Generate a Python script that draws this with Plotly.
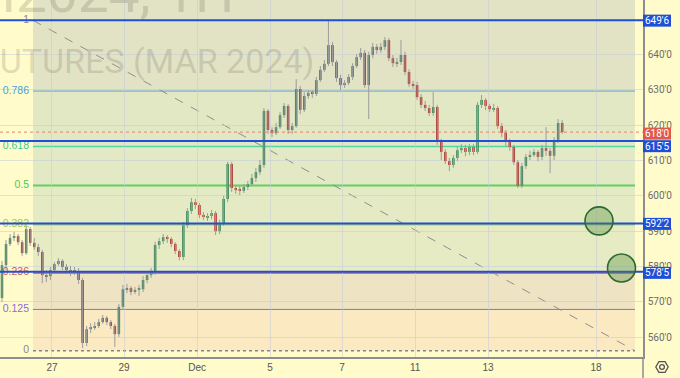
import math
import plotly.graph_objects as go

# ---------------- data ----------------
day_labels = ["27", "29", "Dec", "5", "7", "11", "13", "18"]
day_label_bars = [12.4, 30.3, 48.4, 66.5, 84.4, 102.5, 120.6, 147.4]

opens = [571.1, 580.4, 586.4, 588.1, 588.6, 586.9, 583.8, 590.6, 586.7, 585.5,
         584.1, 577.6, 577.3, 579.0, 580.7, 581.6, 579.9, 579.0, 578.5, 578.7,
         576.2, 558.4, 562.3, 562.9, 563.2, 564.3, 565.5, 564.3, 563.2, 560.9,
         568.6, 573.6, 573.9, 572.8, 573.4, 573.6, 576.2, 577.6, 578.7, 586.1,
         587.2, 588.3, 587.8, 586.4, 584.4, 582.7, 591.7, 595.7, 598.2, 597.4,
         594.6, 594.0, 594.3, 595.1, 590.0, 592.3, 599.1, 609.0, 602.2, 601.6,
         601.4, 602.5, 603.3, 605.0, 606.7, 608.7, 624.0, 618.6, 617.7, 619.4,
         622.8, 625.4, 618.6, 619.7, 630.2, 624.3, 628.2, 629.1, 628.8, 632.7,
         635.6, 637.3, 642.6, 637.8, 633.3, 631.3, 631.9, 633.6, 636.7, 639.2,
         640.4, 631.3, 639.8, 642.1, 641.2, 642.1, 644.0, 638.9, 637.5, 637.8,
         639.8, 635.0, 631.6, 631.3, 627.9, 625.7, 624.8, 623.4, 625.1, 615.2,
         612.4, 609.8, 608.7, 610.7, 612.9, 613.5, 612.4, 613.8, 612.4, 625.7,
         627.1, 625.4, 624.5, 624.8, 619.7, 617.8, 615.2, 613.8, 609.5, 602.8,
         608.4, 611.0, 611.5, 612.4, 611.0, 613.5, 612.7, 611.3, 615.8, 620.6]

highs = [581.6, 587.5, 589.2, 589.8, 589.2, 587.5, 591.7, 591.2, 588.1, 586.4,
         584.7, 579.0, 579.9, 581.3, 582.4, 582.1, 580.7, 580.2, 579.9, 579.6,
         576.8, 563.2, 564.0, 564.3, 565.2, 566.3, 566.0, 564.9, 563.8, 569.4,
         574.8, 575.1, 574.5, 574.2, 574.8, 577.3, 578.5, 579.6, 587.0, 588.1,
         589.2, 588.9, 588.3, 586.9, 584.9, 592.6, 596.5, 599.4, 599.1, 598.0,
         595.4, 595.1, 596.0, 595.7, 593.2, 600.0, 609.6, 609.6, 603.0, 602.8,
         603.3, 604.2, 606.2, 607.9, 610.1, 624.8, 624.5, 619.4, 620.6, 623.7,
         626.2, 625.9, 620.6, 633.0, 631.0, 629.3, 629.9, 629.9, 633.6, 636.7,
         638.4, 649.6, 643.5, 638.4, 634.2, 632.7, 634.4, 637.5, 640.1, 641.8,
         641.2, 640.7, 643.2, 642.9, 643.2, 644.9, 644.6, 639.8, 639.0, 644.0,
         640.7, 635.8, 632.5, 632.2, 628.8, 626.8, 625.7, 629.3, 625.7, 616.1,
         613.2, 610.7, 611.5, 613.8, 614.6, 614.4, 614.6, 614.6, 626.5, 628.5,
         627.6, 626.0, 626.0, 625.4, 620.6, 618.6, 616.1, 614.4, 610.1, 609.3,
         611.8, 612.7, 613.2, 612.9, 614.4, 619.4, 613.5, 616.6, 621.7, 621.4]

lows = [570.0, 579.0, 585.8, 587.2, 586.1, 583.0, 583.3, 585.8, 584.7, 583.0,
        575.3, 575.6, 576.2, 578.2, 580.2, 579.0, 578.2, 577.3, 577.6, 575.1,
        557.0, 557.5, 561.2, 562.1, 562.6, 563.8, 563.5, 562.3, 557.3, 560.1,
        567.7, 572.5, 571.9, 572.2, 571.7, 572.8, 575.3, 576.8, 577.6, 585.0,
        586.4, 586.7, 585.5, 583.5, 581.8, 581.8, 590.9, 594.9, 596.3, 593.7,
        593.2, 592.9, 593.4, 588.9, 589.2, 591.5, 598.2, 601.1, 600.5, 600.2,
        600.8, 601.6, 602.8, 603.9, 605.9, 607.9, 617.5, 616.6, 617.2, 618.9,
        622.0, 617.5, 617.5, 619.2, 623.1, 623.7, 627.4, 627.7, 628.2, 632.2,
        635.0, 636.7, 636.7, 632.2, 629.9, 630.5, 631.3, 632.7, 636.1, 638.4,
        630.5, 621.7, 638.9, 640.1, 640.4, 641.2, 638.1, 636.4, 636.4, 637.0,
        634.1, 630.8, 630.2, 627.1, 624.8, 624.0, 622.6, 622.6, 614.4, 610.1,
        609.0, 607.0, 607.9, 609.8, 612.1, 611.2, 611.5, 611.5, 611.8, 624.8,
        624.2, 623.7, 623.7, 618.9, 616.6, 614.1, 612.7, 608.7, 602.2, 602.2,
        607.6, 610.1, 611.0, 609.8, 610.1, 611.3, 606.4, 610.1, 614.9, 617.5]

closes = [580.4, 586.4, 588.1, 588.6, 586.9, 583.8, 590.6, 586.7, 585.5, 584.1,
          577.6, 577.3, 579.0, 580.7, 581.6, 579.9, 579.0, 578.5, 578.7, 576.2,
          558.4, 562.3, 562.9, 563.2, 564.3, 565.5, 564.3, 563.2, 560.9, 568.6,
          573.6, 573.9, 572.8, 573.4, 573.6, 576.2, 577.6, 578.7, 586.1, 587.2,
          588.3, 587.8, 586.4, 584.4, 582.7, 591.7, 595.7, 598.2, 597.4, 594.6,
          594.0, 594.3, 595.1, 590.0, 592.3, 599.1, 609.0, 602.2, 601.6, 601.4,
          602.5, 603.3, 605.0, 606.7, 608.7, 624.0, 618.6, 617.7, 619.4, 622.8,
          625.4, 618.6, 619.7, 630.2, 624.3, 628.2, 629.1, 628.8, 632.7, 635.6,
          637.3, 642.6, 637.8, 633.3, 631.3, 631.9, 633.6, 636.7, 639.2, 640.4,
          631.3, 639.8, 642.1, 641.2, 642.1, 644.0, 638.9, 637.5, 637.8, 639.8,
          635.0, 631.6, 631.3, 627.9, 625.7, 624.8, 623.4, 625.1, 615.2, 612.4,
          609.8, 608.7, 610.7, 612.9, 613.5, 612.4, 613.8, 612.4, 625.7, 627.1,
          625.4, 624.5, 624.8, 619.7, 617.8, 615.2, 613.8, 609.5, 602.8, 608.4,
          611.0, 611.5, 612.4, 611.0, 613.5, 612.7, 611.3, 615.8, 620.6, 618.0]

price_ticks = [560, 570, 580, 590, 600, 610, 620, 630, 640]
price_tick_labels = ["560'0", "570'0", "580'0", "590'0", "600'0", "610'0", "620'0", "630'0", "640'0"]

fib_low = 556.2
fib_high = 649.6
fib_ratios = [0, 0.125, 0.236, 0.382, 0.5, 0.618, 0.786, 1]
fib_texts = ["0", "0.125", "0.236", "0.382", "0.5", "0.618", "0.786", "1"]

level_prices = [649.6, 615.5, 592.2, 578.5]
level_labels = ["649'6", "615'5", "592'2", "578'5"]
last_price = 618.0
last_label = "618'0"

watermark_1 = "ZWH2024, 1H"
watermark_2 = "WHEAT FUTURES (MAR 2024)"

# ---------------- geometry / style ----------------
W, H = 680, 378
PLOT_W, PLOT_H = 643, 357
X_PER_BAR = 4.03
X_OFF = 2.0
X_RANGE = [-X_OFF / X_PER_BAR, (PLOT_W - X_OFF) / X_PER_BAR]
Y_RANGE = [554.43, 655.35]

BG = "#fffbca"
GRID = "rgba(196,204,216,0.55)"
AXIS = "#8e8e8e"
BLUE = "#1f4fd6"
RED_BOX = "#e0594b"
UP = "#338659"
DOWN = "#b3322b"
WICK = "#9c9c9c"
FONT = "Liberation Sans, Arial, sans-serif"


def px_to_bar(px):
    return (px - X_OFF) / X_PER_BAR


def pxx(px):
    return px / PLOT_W


def pxy(py):
    return (PLOT_H - py) / PLOT_H


def price_py(p):
    return (Y_RANGE[1] - p) / (Y_RANGE[1] - Y_RANGE[0]) * PLOT_H


FIB_X0 = px_to_bar(33)
FIB_X1 = px_to_bar(635)

fib_line_colors = ["#80838c", "#8d6fdc", "#e8705c", "#b0d25a", "#63d063", "#56d6a6", "#5ea6d2", "#80838c"]
fib_label_colors = ["#8a8a8a", "#8b6fd8", "#e0564c", "#a6c93f", "#52c852", "#44c99b", "#4c9fdc", "#8a8a8a"]
fib_line_widths = [1.5, 1, 2.5, 2, 2, 1.5, 1, 1]
fib_line_dash = ["dot", "solid", "solid", "solid", "solid", "solid", "solid", "dot"]
band_colors = ["#fbe9c1", "#eee3c2", "#e6ebc3", "#e4eac3", "#e3e9c4", "#e2e7c4", "#e2e2c5"]

fib_prices = [fib_low + r * (fib_high - fib_low) for r in fib_ratios]

idx = list(range(len(closes)))

fig = go.Figure()

# wicks
wx, wy = [], []
for i in idx:
    wx += [i, i, None]
    wy += [lows[i], highs[i], None]
fig.add_trace(go.Scatter(x=wx, y=wy, mode="lines", line=dict(color=WICK, width=1),
                         hoverinfo="skip", showlegend=False))

# bodies
base = [min(o, c) for o, c in zip(opens, closes)]
height = [max(abs(c - o), 0.3) for o, c in zip(opens, closes)]
colors = [UP if c >= o else DOWN for o, c in zip(opens, closes)]
fig.add_trace(go.Bar(x=idx, y=height, base=base, width=0.62,
                     marker=dict(color=colors, line=dict(width=0)),
                     hoverinfo="skip", showlegend=False))

# fib labels
fig.add_trace(go.Scatter(x=[px_to_bar(29)] * len(fib_prices), y=fib_prices, mode="text",
                         text=fib_texts, textposition="middle left",
                         textfont=dict(family=FONT, size=10.5, color=fib_label_colors),
                         hoverinfo="skip", showlegend=False))

shapes = []
# fib bands
for k in range(len(fib_prices) - 1):
    shapes.append(dict(type="rect", xref="x", yref="y", x0=FIB_X0, x1=FIB_X1,
                       y0=fib_prices[k], y1=fib_prices[k + 1], fillcolor=band_colors[k],
                       line=dict(width=0), layer="below"))
shapes.append(dict(type="rect", xref="x", yref="y", x0=FIB_X0, x1=FIB_X1,
                   y0=fib_prices[-1], y1=Y_RANGE[1], fillcolor=band_colors[-1],
                   line=dict(width=0), layer="below"))
# fib lines
for k, p in enumerate(fib_prices):
    shapes.append(dict(type="line", xref="x", yref="y", x0=FIB_X0, x1=FIB_X1, y0=p, y1=p,
                       line=dict(color=fib_line_colors[k], width=fib_line_widths[k],
                                 dash=fib_line_dash[k]), layer="below"))
# fib trend line
shapes.append(dict(type="line", xref="x", yref="y", x0=FIB_X0, x1=FIB_X1,
                   y0=fib_high, y1=fib_low,
                   line=dict(color="#8f8f8f", width=1, dash="dash"), layer="below"))

# last price dotted line
shapes.append(dict(type="line", xref="x", yref="y", x0=X_RANGE[0], x1=X_RANGE[1],
                   y0=last_price, y1=last_price,
                   line=dict(color="#e4846f", width=1, dash="dot"), layer="above"))
# blue horizontal levels
for p in level_prices:
    shapes.append(dict(type="line", xref="x", yref="y", x0=X_RANGE[0], x1=X_RANGE[1],
                       y0=p, y1=p, line=dict(color=BLUE, width=2), layer="above"))

# target circles
for cx, cy in [(px_to_bar(599), 592.9), (px_to_bar(621.5), 579.6)]:
    shapes.append(dict(type="circle", xref="x", yref="y",
                       xsizemode="pixel", xanchor=cx, x0=-14, x1=14,
                       ysizemode="pixel", yanchor=cy, y0=-14, y1=14,
                       fillcolor="rgba(80,140,60,0.36)",
                       line=dict(color="#2b6a2e", width=1.6), layer="above"))

# extend price-axis separator to the bottom
shapes.append(dict(type="line", xref="paper", yref="paper", x0=1, x1=1, y0=0, y1=pxy(H),
                   line=dict(color=AXIS, width=1.5), layer="above"))

annotations = []
# price boxes
boxes = [(level_prices[0], level_labels[0], BLUE, 0.3),
         (last_price, last_label, RED_BOX, 1.5),
         (level_prices[1], level_labels[1], BLUE, 5.2),
         (level_prices[2], level_labels[2], BLUE, 0.5),
         (level_prices[3], level_labels[3], BLUE, 1.0)]
for p, lab, col, off in boxes:
    cy = price_py(p) + off
    shapes.append(dict(type="rect", xref="paper", yref="paper",
                       x0=pxx(643), x1=pxx(671), y0=pxy(cy + 6), y1=pxy(cy - 6),
                       fillcolor=col, line=dict(width=0), layer="above"))
    annotations.append(dict(xref="paper", yref="paper", x=pxx(657), y=pxy(cy),
                            text=lab, showarrow=False, xanchor="center", yanchor="middle",
                            font=dict(family="Liberation Sans Narrow, Roboto, sans-serif",
                                      size=10, color="white")))

# gear icon
gx, gy, gr = 662, 367, 6.2
pts = []
for a in range(6):
    ang = math.radians(60 * a)
    pts.append((gx + gr * math.cos(ang), gy + gr * math.sin(ang)))
path = "M " + " L ".join(f"{pxx(x):.5f},{pxy(y):.5f}" for x, y in pts) + " Z"
shapes.append(dict(type="path", xref="paper", yref="paper", path=path,
                   line=dict(color="#555555", width=1.3), layer="above"))
shapes.append(dict(type="circle", xref="paper", yref="paper",
                   x0=pxx(gx - 2.4), x1=pxx(gx + 2.4), y0=pxy(gy + 2.4), y1=pxy(gy - 2.4),
                   line=dict(color="#555555", width=1.3), layer="above"))

# watermark
annotations.append(dict(xref="paper", yref="paper", x=pxx(236), y=pxy(-7),
                        text=watermark_1, showarrow=False, xanchor="right", yanchor="middle",
                        font=dict(family="Roboto, sans-serif", size=55,
                                  color="rgba(90,90,80,0.2)")))
annotations.append(dict(xref="paper", yref="paper", x=pxx(316), y=pxy(61),
                        text=watermark_2, showarrow=False, xanchor="right", yanchor="middle",
                        font=dict(family="Roboto, sans-serif", size=34,
                                  color="rgba(90,90,80,0.2)")))

fig.update_layout(
    width=W, height=H,
    margin=dict(l=0, r=W - PLOT_W, t=0, b=H - PLOT_H),
    paper_bgcolor=BG, plot_bgcolor=BG,
    showlegend=False, hovermode=False, barmode="overlay",
    shapes=shapes, annotations=annotations,
    xaxis=dict(range=X_RANGE, tickvals=day_label_bars, ticktext=day_labels,
               showgrid=True, gridcolor=GRID, gridwidth=1, zeroline=False,
               showline=True, linecolor=AXIS, linewidth=1.5, ticks="",
               tickfont=dict(family=FONT, size=10, color="#555555"), fixedrange=True),
    yaxis=dict(side="right", range=Y_RANGE, tickvals=price_ticks, ticktext=price_tick_labels,
               showgrid=True, gridcolor=GRID, gridwidth=1, zeroline=False,
               showline=True, linecolor=AXIS, linewidth=1.5, ticks="",
               ticklabelstandoff=1,
               tickfont=dict(family="Liberation Sans Narrow, Roboto, sans-serif", size=10,
                             color="#6d6d6d"), fixedrange=True),
)

fig.write_html("out.html", config={"displayModeBar": False})
